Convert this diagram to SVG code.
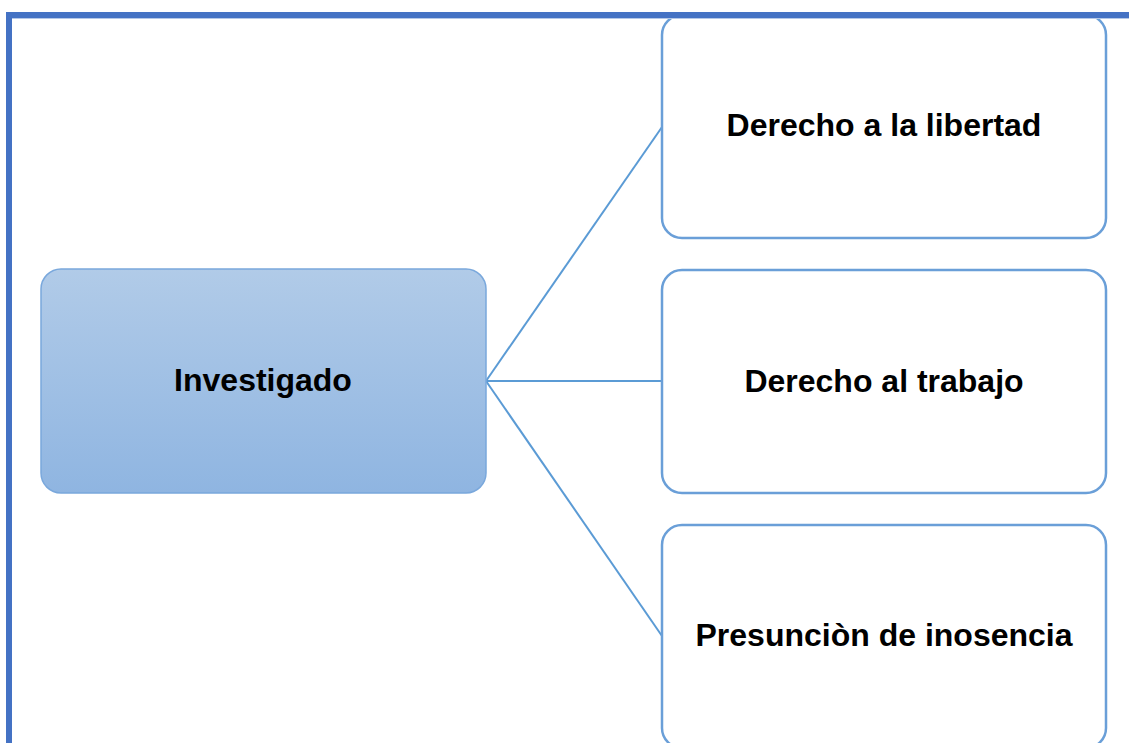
<svg xmlns="http://www.w3.org/2000/svg" width="1129" height="743" viewBox="0 0 1129 743">
<style>
.box{fill:#ffffff;stroke:#6A9FD8;stroke-width:2.5}
.root{fill:url(#g);stroke:#7AA8DC;stroke-width:1.5}
.lbl{font-family:"Liberation Sans",Arial,sans-serif;font-weight:bold;font-size:32px;fill:#000;text-anchor:middle}
.con{stroke:#5B9BD5;stroke-width:2;fill:none}
</style>
<defs>
<linearGradient id="g" x1="0" y1="0" x2="0" y2="1">
<stop offset="0" stop-color="#B1CBE8"/>
<stop offset="1" stop-color="#8FB5E1"/>
</linearGradient>
</defs>
<rect width="1129" height="743" fill="#ffffff"/>
<g id="connectors">
<line class="con" x1="486" y1="381" x2="662" y2="127"/>
<line class="con" x1="486" y1="381" x2="662" y2="381"/>
<line class="con" x1="486" y1="381" x2="662" y2="636"/>
</g>
<g id="n1">
<rect class="box" x="662" y="15" width="444" height="223" rx="20"/>
<text class="lbl" x="884" y="136">Derecho a la libertad</text>
</g>
<g id="n2">
<rect class="box" x="662" y="270" width="444" height="223" rx="20"/>
<text class="lbl" x="884" y="392">Derecho al trabajo</text>
</g>
<g id="n3">
<rect class="box" x="662" y="525" width="444" height="223" rx="20"/>
<text class="lbl" x="884" y="646">Presunciòn de inosencia</text>
</g>
<g id="root">
<rect class="root" x="41" y="269" width="445" height="224" rx="20"/>
<text class="lbl" x="263" y="391">Investigado</text>
</g>
<g id="border">
<path d="M9 743 V15 H1129" fill="none" stroke="#4472C4" stroke-width="6"/>
<line x1="12" y1="18.5" x2="1129" y2="18.5" stroke="#B4C7E7" stroke-width="1"/>
</g>
</svg>
